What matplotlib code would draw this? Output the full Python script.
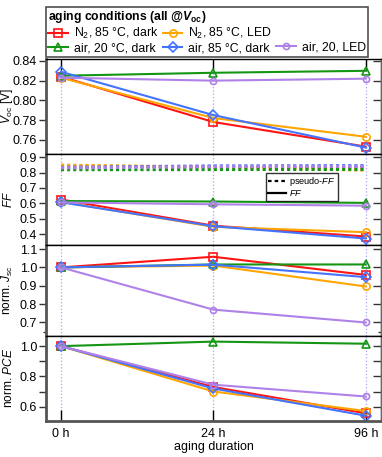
import matplotlib
matplotlib.use("Agg")
import matplotlib.pyplot as plt
from matplotlib.lines import Line2D
import numpy as np

plt.rcParams['font.family'] = ['Liberation Sans', 'DejaVu Sans']
plt.rcParams['mathtext.fontset'] = 'custom'
plt.rcParams['mathtext.rm'] = 'Liberation Sans'
plt.rcParams['mathtext.it'] = 'Liberation Sans:italic'
plt.rcParams['mathtext.bf'] = 'Liberation Sans:bold'
plt.rcParams['mathtext.bfit'] = 'Liberation Sans:italic:bold'

# ---- data ----
durations = ["0 h", "24 h", "96 h"]
conditions = ["N$_2$, 85 °C, dark", "N$_2$, 85 °C, LED", "air, 20 °C, dark",
              "air, 85 °C, dark", "air, 20, LED"]

voc_n2_dark = [0.824, 0.778, 0.753]
voc_n2_led = [0.823, 0.782, 0.763]
voc_air20_dark = [0.825, 0.828, 0.830]
voc_air85_dark = [0.829, 0.785, 0.752]
voc_air20_led = [0.823, 0.820, 0.822]

ff_n2_dark = [0.625, 0.455, 0.385]
ff_n2_led = [0.610, 0.448, 0.413]
ff_air20_dark = [0.615, 0.612, 0.603]
ff_air85_dark = [0.607, 0.452, 0.372]
ff_air20_led = [0.606, 0.594, 0.585]

pff_n2_dark = [0.840, 0.838, 0.835]
pff_n2_led = [0.848, 0.835, 0.815]
pff_air20_dark = [0.818, 0.819, 0.820]
pff_air85_dark = [0.833, 0.843, 0.845]
pff_air20_led = [0.830, 0.838, 0.840]

jsc_n2_dark = [1.0, 1.058, 0.959]
jsc_n2_led = [1.0, 1.010, 0.896]
jsc_air20_dark = [1.0, 1.016, 1.016]
jsc_air85_dark = [1.0, 1.015, 0.947]
jsc_air20_led = [1.0, 0.770, 0.700]

pce_n2_dark = [1.0, 0.730, 0.556]
pce_n2_led = [1.0, 0.700, 0.571]
pce_air20_dark = [1.0, 1.030, 1.016]
pce_air85_dark = [1.0, 0.720, 0.540]
pce_air20_led = [1.0, 0.745, 0.667]

voc = [voc_n2_dark, voc_n2_led, voc_air20_dark, voc_air85_dark, voc_air20_led]
ff = [ff_n2_dark, ff_n2_led, ff_air20_dark, ff_air85_dark, ff_air20_led]
pff = [pff_n2_dark, pff_n2_led, pff_air20_dark, pff_air85_dark, pff_air20_led]
jsc = [jsc_n2_dark, jsc_n2_led, jsc_air20_dark, jsc_air85_dark, jsc_air20_led]
pce = [pce_n2_dark, pce_n2_led, pce_air20_dark, pce_air85_dark, pce_air20_led]

colors = ['#FF1414', '#FFA500', '#149614', '#4474FF', '#AE82E8']
markers = ['s', 'o', '^', 'D', 'o']
msizes = [5.2, 5.2, 5.6, 4.8, 4.4]

x = np.arange(len(durations))

fig = plt.figure(figsize=(3.82, 4.57), dpi=100)
H = 457.0
W = 382.0
left = 46 / W
width = 381 / W - left
edges = [58.5, 154, 245, 335.7, 421]
axes = []
for i in range(4):
    top, bot = edges[i], edges[i + 1]
    ax = fig.add_axes([left, 1 - bot / H, width, (bot - top) / H])
    axes.append(ax)

ax_voc, ax_ff, ax_jsc, ax_pce = axes

def plot_series(ax, data, ls='-', with_markers=True, lw=1.5):
    for d, c, m, ms in zip(data, colors, markers, msizes):
        if with_markers:
            ax.plot(x, d, color=c, lw=lw, ls=ls, marker=m, ms=ms,
                    mfc='none', mec=c, mew=1.2)
        else:
            ax.plot(x, d, color=c, lw=lw, ls=ls)

plot_series(ax_voc, voc)
plot_series(ax_ff, pff, ls=(0, (1.0, 1.0)), with_markers=False, lw=2.2)
plot_series(ax_ff, ff)
plot_series(ax_jsc, jsc)
plot_series(ax_pce, pce)

ax_voc.set_ylim(0.7455, 0.8425)
ax_voc.set_yticks([0.76, 0.78, 0.80, 0.82, 0.84])
ax_voc.set_yticklabels(['0.76', '0.78', '0.80', '0.82', '0.84'])

ax_ff.set_ylim(0.33, 0.92)
ax_ff.set_yticks([0.4, 0.5, 0.6, 0.7, 0.8, 0.9])
ax_ff.set_yticklabels(['0.4', '0.5', '0.6', '0.7', '0.8', '0.9'])

ax_jsc.set_ylim(0.628, 1.122)
ax_jsc.set_yticks([0.7, 0.8, 0.9, 1.0, 1.1])
ax_jsc.set_yticklabels(['0.7', '0.8', '0.9', '1.0', '1.1'])
ax_jsc.set_yticks([0.65], minor=True)

ax_pce.set_ylim(0.505, 1.069)
ax_pce.set_yticks([0.6, 0.8, 1.0])
ax_pce.set_yticklabels(['0.6', '0.8', '1.0'])
ax_pce.set_yticks([0.7, 0.9], minor=True)

ylabels = [r'$V_\mathrm{oc}$ [V]', r'$FF$', r'norm. $J_\mathrm{sc}$', r'norm. $PCE$']
for i, ax in enumerate(axes):
    ax.set_xlim(-0.0985, 2.1)
    ax.set_xticks(x)
    ax.grid(axis='x', color='#A9A4F0', linestyle=':', lw=0.9)
    ax.set_axisbelow(True)
    ax.tick_params(axis='y', which='major', direction='out', left=True, right=False,
                   length=5, width=1.0, labelsize=9, pad=1.5, color='#333333')
    ax.tick_params(axis='y', which='minor', direction='out', left=True, right=False,
                   length=5 if ax is ax_pce else 2.5, width=1.0, color='#333333')
    # mirrored inward ticks on the right side
    sec = ax.secondary_yaxis('right')
    sec.set_yticks(ax.get_yticks())
    sec.set_yticks(ax.get_yticks(minor=True), minor=True)
    sec.tick_params(axis='y', which='major', direction='in', length=5.5, width=1.0,
                    labelright=False, color='#333333')
    sec.tick_params(axis='y', which='minor', direction='in',
                    length=5.5 if ax is ax_pce else 2.5, width=1.0,
                    labelright=False, color='#333333')
    sec.spines['right'].set_color('#666666')
    sec.spines['right'].set_linewidth(1.0)
    ax.set_ylabel(ylabels[i], fontsize=8.6)
    ax.yaxis.set_label_coords(-0.093, 0.5)
    ax.spines['left'].set_color('#555555')
    ax.spines['left'].set_linewidth(2.0)
    ax.spines['right'].set_color('#666666')
    ax.spines['right'].set_linewidth(1.0)
    ax.spines['top'].set_color('black')
    ax.spines['top'].set_linewidth(1.0)
    ax.spines['bottom'].set_color('black')
    ax.spines['bottom'].set_linewidth(1.0)
    if i == 0:
        ax.tick_params(axis='x', direction='in', top=True, bottom=False,
                       labelbottom=False, length=8, width=1.0, color='black')
    elif i == 3:
        ax.tick_params(axis='x', direction='in', top=False, bottom=True,
                       labelbottom=True, length=8, width=1.0, color='black',
                       labelsize=9, pad=5)
        ax.set_xticklabels(durations)
        ax.spines['bottom'].set_color('#555555')
        ax.spines['bottom'].set_linewidth(2.0)
        ax.set_xlabel('aging duration', fontsize=9, labelpad=1)
    else:
        ax.tick_params(axis='x', length=0, labelbottom=False)

# FF legend
ff_handles = [Line2D([], [], color='black', lw=1.6, ls=(0, (1.6, 1.4))),
              Line2D([], [], color='black', lw=1.6)]
leg2 = ax_ff.legend(ff_handles, ['pseudo-$FF$', '$FF$'], loc='upper left',
                    bbox_to_anchor=(0.657, 0.79), fontsize=6.6, frameon=True,
                    fancybox=False, edgecolor='black', handlelength=1.9,
                    borderpad=0.25, labelspacing=0.0, handletextpad=0.4,
                    borderaxespad=0)
leg2.get_frame().set_linewidth(1.0)

# main legend
handles = []
for c, m, ms in zip(colors, markers, msizes):
    handles.append(Line2D([], [], color=c, lw=1.5, marker=m, ms=ms,
                          mfc='none', mec=c, mew=1.2))
blank = Line2D([], [], color='none', lw=0)
order_h = [handles[0], handles[2], handles[1], handles[3], blank, handles[4]]
order_l = [conditions[0], conditions[2], conditions[1], conditions[3], '', conditions[4]]
leg = fig.legend(order_h, order_l, ncol=3, loc='lower left',
                 bbox_to_anchor=(left, 1 - 57 / H), bbox_transform=fig.transFigure,
                 fontsize=8.8, frameon=True, fancybox=False, edgecolor='#222222',
                 title=r'aging conditions (all @$\mathbfit{V}_\mathbf{oc}$)',
                 title_fontproperties={'weight': 'bold', 'size': 8.8},
                 alignment='left', handlelength=1.6, handletextpad=0.45,
                 columnspacing=0.4, borderpad=0.2, labelspacing=0.1,
                 borderaxespad=0)
leg.get_frame().set_linewidth(1.2)

fig.savefig('out.png', dpi=100)
